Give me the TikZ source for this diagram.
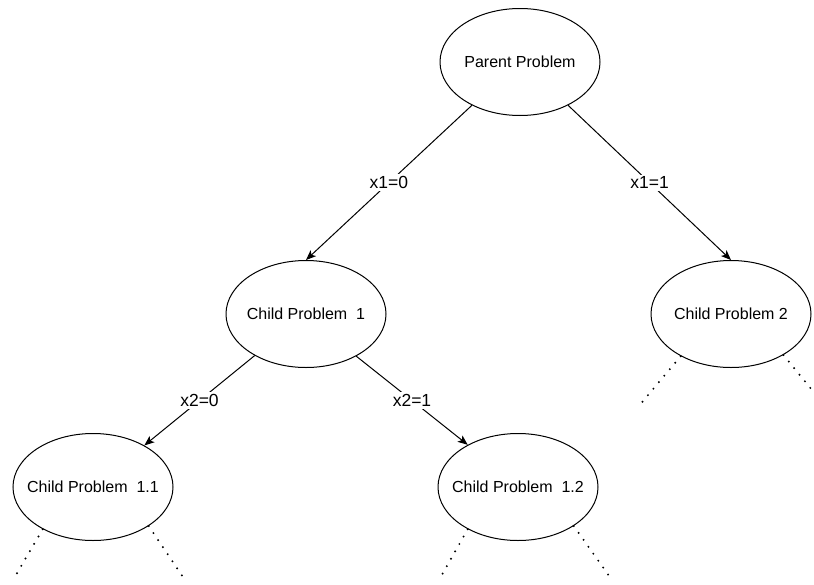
\documentclass[tikz,border=0pt]{standalone}
\usepackage{fontspec}
\setmainfont{Liberation Sans}
\usetikzlibrary{arrows.meta, shapes.geometric}

\begin{document}
\begin{tikzpicture}[x=1pt, y=-1pt,
  prob/.style={draw, ellipse, line width=1pt, minimum width=160pt, minimum height=107pt, inner xsep=-15pt, inner ysep=0pt, font=\fontsize{16}{19}\selectfont},
  branch/.style={line width=1pt, -{Stealth[length=10pt,width=8pt,inset=2.5pt]}},
  lbl/.style={fill=white, inner sep=2pt, font=\fontsize{17.5}{20}\selectfont},
  more/.style={line width=2.2pt, line cap=round, dash pattern=on 0pt off 8.5pt}]
\useasboundingbox (0,0) rectangle (814,584);
\node[prob] (parent) at (520,62) {Parent Problem};
\node[prob] (c1) at (306,314) {Child Problem\ \ 1};
\node[prob] (c2) at (731,314) {Child Problem 2};
\node[prob] (c11) at (93,487) {Child Problem\ \ 1.1};
\node[prob] (c12) at (518,487) {Child Problem\ \ 1.2};
\draw[branch] (parent.222) -- node[lbl] {x1=0} (c1.north);
\draw[branch] (parent.-42) -- node[lbl] {x1=1} (c2.north);
\draw[branch] (c1.-141) -- node[lbl] {x2=0} (c11.39);
\draw[branch] (c1.-40) -- node[lbl] {x2=1} (c12.140);
\coordinate (c11l) at (13,580);
\coordinate (c11r) at (185,580);
\coordinate (c12l) at (439,580);
\coordinate (c12r) at (612,580);
\coordinate (c2l) at (638,407);
\coordinate (c2r) at (812,390);
\draw[more] (c11.-140) -- (c11l);
\draw[more] (c11.-35) -- (c11r);
\draw[more] (c12.-140) -- (c12l);
\draw[more] (c12.-35) -- (c12r);
\draw[more] (c2.-140) -- (c2l);
\draw[more] (c2.-38) -- (c2r);
\end{tikzpicture}
\end{document}
